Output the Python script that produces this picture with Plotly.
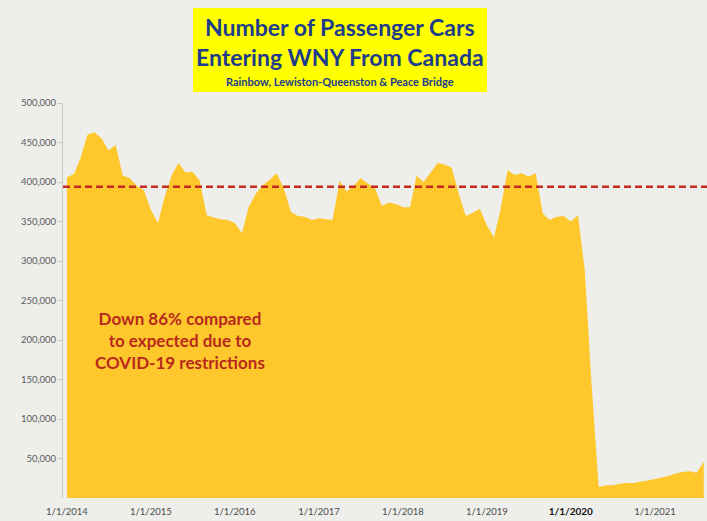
import pandas as pd
import plotly.graph_objects as go

# Monthly passenger cars entering WNY from Canada (Rainbow, Lewiston-Queenston, Peace Bridge)
months = pd.date_range("2014-01-01", "2021-08-01", freq="MS")
cars_thousands = [
    406, 410, 430, 460, 463, 455, 440, 447, 408, 405, 395, 390,   # 2014
    365, 348, 380, 408, 424, 412, 413, 402, 358, 355, 353, 352,   # 2015
    348, 335, 368, 385, 396, 403, 411, 392, 362, 357, 356, 352,   # 2016
    354, 353, 352, 402, 388, 395, 405, 398, 392, 370, 374, 372,   # 2017
    368, 368, 408, 400, 412, 424, 422, 418, 385, 357, 361, 366,   # 2018
    345, 330, 365, 415, 409, 411, 407, 411, 360, 352, 356, 357,   # 2019
    350, 358, 290, 140, 14, 16, 16, 18, 19, 19, 21, 22,            # 2020
    24, 26, 28, 31, 33, 34, 32, 46,                                # 2021
]
cars = [v * 1000 for v in cars_thousands]

expected_level = 394000

y_ticks = [50000, 100000, 150000, 200000, 250000, 300000, 350000, 400000, 450000, 500000]
y_tick_text = [f"{v:,}" for v in y_ticks]
x_ticks = ["2014-01-01", "2015-01-01", "2016-01-01", "2017-01-01",
           "2018-01-01", "2019-01-01", "2020-01-01", "2021-01-01"]
x_tick_text = ["1/1/2014", "1/1/2015", "1/1/2016", "1/1/2017", "1/1/2018", "1/1/2019",
               "<span style='color:#111111;font-size:10px'><b>1/1/2020</b></span>", "1/1/2021"]

W, H = 707, 521
ML, MR, MT, MB = 63, 0, 103, 23
PW, PH = W - ML - MR, H - MT - MB


def px(x):
    return (x - ML) / PW


def py(y):
    return (H - MB - y) / PH


fig = go.Figure()
fig.add_trace(go.Scatter(
    x=months, y=cars, mode="lines", fill="tozeroy",
    line=dict(width=0, color="#FEC82D"), fillcolor="#FEC82D",
    hoverinfo="x+y", showlegend=False,
))

fig.add_shape(type="line", xref="paper", yref="y", x0=0, x1=1,
              y0=expected_level, y1=expected_level,
              line=dict(color="#C62A1F", width=2.6, dash="7px,4px"))

# title block
fig.add_shape(type="rect", xref="paper", yref="paper",
              x0=px(193), x1=px(487), y0=py(92), y1=py(8),
              fillcolor="#FFFF00", line=dict(width=0), layer="above")
title_font = dict(family="Lato", size=23, color="#203C8C", weight="bold")
centered = dict(xref="paper", yref="paper", showarrow=False,
                xanchor="center", yanchor="middle")
fig.add_annotation(text="Number of Passenger Cars", x=px(340), y=py(27),
                   font=title_font, **centered)
fig.add_annotation(text="Entering WNY From Canada", x=px(340), y=py(57),
                   font=title_font, **centered)
fig.add_annotation(text="Rainbow, Lewiston-Queenston & Peace Bridge", x=px(340), y=py(82),
                   font=dict(family="Lato", size=11, color="#203C8C", weight="bold"),
                   **centered)

fig.add_annotation(text="Down 86% compared<br>to expected due to<br>COVID-19 restrictions",
                   x=px(180), y=py(340), align="center",
                   font=dict(family="Lato", size=17, color="#B8281C", weight="bold"),
                   **centered)

fig.update_layout(
    width=W, height=H,
    margin=dict(l=ML, r=MR, t=MT, b=MB),
    paper_bgcolor="#EEEEEB", plot_bgcolor="#EEEEEB",
    xaxis=dict(
        type="date", range=["2013-12-15", "2021-08-15"],
        tickvals=x_ticks, ticktext=x_tick_text,
        showgrid=False, zeroline=False, showline=False,
        ticks="outside", ticklen=5, tickcolor="rgba(0,0,0,0)",
        tickfont=dict(family="Lato", size=9.5, color="#4a4a4a"),
    ),
    yaxis=dict(
        range=[0, 500000], tickvals=y_ticks, ticktext=y_tick_text,
        showgrid=False, zeroline=False,
        showline=True, linecolor="#C9C9C6", linewidth=1,
        ticks="outside", ticklen=4, tickcolor="#C9C9C6",
        tickfont=dict(family="Lato", size=9.5, color="#5a5a5a"),
    ),
)

fig.write_html("out.html")
